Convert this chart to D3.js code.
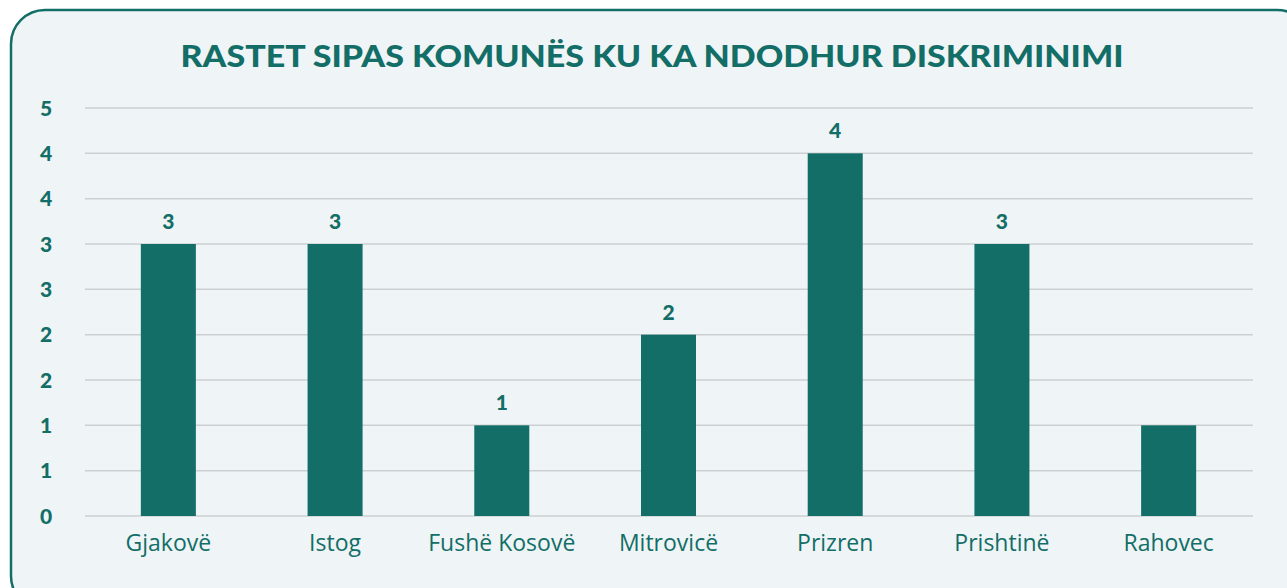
<!DOCTYPE html>
<html>
<head>
<meta charset="utf-8">
<script src="https://cdn.jsdelivr.net/npm/d3@7"></script>
<style>
  body { margin: 0; background: #ffffff; }
  svg { display: block; }
</style>
</head>
<body>
<svg></svg>
<script>
let width = 1287;
let height = 588;
let teal = "#126e66";

let categories = ["Gjakovë", "Istog", "Fushë Kosovë", "Mitrovicë", "Prizren", "Prishtinë", "Rahovec"];
let values = [3, 3, 1, 2, 4, 3, 1];
let showLabel = [true, true, true, true, true, true, false];
let yTicks = [0, 0.5, 1, 1.5, 2, 2.5, 3, 3.5, 4, 4.5];
let title = "RASTET SIPAS KOMUNËS KU KA NDODHUR DISKRIMINIMI";

let svg = d3.select("svg")
  .attr("width", width)
  .attr("height", height);

// card background
svg.append("rect")
  .attr("x", 11)
  .attr("y", 10)
  .attr("width", 1300)
  .attr("height", 600)
  .attr("rx", 34)
  .attr("ry", 34)
  .style("fill", "#eff4f7")
  .style("stroke", teal)
  .style("stroke-width", 2.5);

svg.append("text")
  .attr("x", 652)
  .attr("y", 67)
  .attr("text-anchor", "middle")
  .attr("textLength", 943)
  .attr("lengthAdjust", "spacingAndGlyphs")
  .style("font-family", "Lato, 'Open Sans', sans-serif")
  .style("font-weight", 900)
  .style("font-size", "30px")
  .style("fill", teal)
  .text(title);

let x = d3.scaleBand()
  .domain(categories)
  .range([85, 1252])
  .paddingInner(0.67)
  .paddingOuter(0.335);

let y = d3.scaleLinear()
  .domain([0, 4.5])
  .range([516, 108]);

// gridlines
svg.selectAll(".grid")
  .data(yTicks)
  .enter()
  .append("line")
    .attr("class", "grid")
    .attr("x1", 85)
    .attr("x2", 1253)
    .attr("y1", d => y(d))
    .attr("y2", d => y(d))
    .style("stroke", "#cdd0d2")
    .style("stroke-width", 1.5);

// y labels (rounded like the original)
svg.selectAll(".ylab")
  .data(yTicks)
  .enter()
  .append("text")
    .attr("class", "ylab")
    .attr("x", 46)
    .attr("y", d => y(d))
    .attr("dy", "0.36em")
    .attr("text-anchor", "middle")
    .style("font-family", "Lato, sans-serif")
    .style("font-weight", 900)
    .style("font-size", "21px")
    .style("fill", teal)
    .text(d => d3.format(".0f")(Math.floor(d + 0.5)));

// bars
svg.selectAll(".bar")
  .data(values)
  .enter()
  .append("rect")
    .attr("class", "bar")
    .attr("x", (d, i) => x(categories[i]))
    .attr("y", d => y(d))
    .attr("width", x.bandwidth())
    .attr("height", d => y(0) - y(d))
    .style("fill", teal);

// value labels
svg.selectAll(".vlab")
  .data(values.map((v, i) => ({v: v, c: categories[i], show: showLabel[i]})).filter(d => d.show))
  .enter()
  .append("text")
    .attr("class", "vlab")
    .attr("x", d => x(d.c) + x.bandwidth() / 2)
    .attr("y", d => y(d.v) - 15)
    .attr("text-anchor", "middle")
    .style("font-family", "Lato, sans-serif")
    .style("font-weight", 900)
    .style("font-size", "21px")
    .style("fill", teal)
    .text(d => d.v);

// category labels
svg.selectAll(".xlab")
  .data(categories)
  .enter()
  .append("text")
    .attr("class", "xlab")
    .attr("x", d => x(d) + x.bandwidth() / 2)
    .attr("y", 551)
    .attr("text-anchor", "middle")
    .style("font-family", "'Open Sans', sans-serif")
    .style("font-weight", 500)
    .style("font-size", "23px")
    .style("fill", teal)
    .text(d => d);
</script>
</body>
</html>
